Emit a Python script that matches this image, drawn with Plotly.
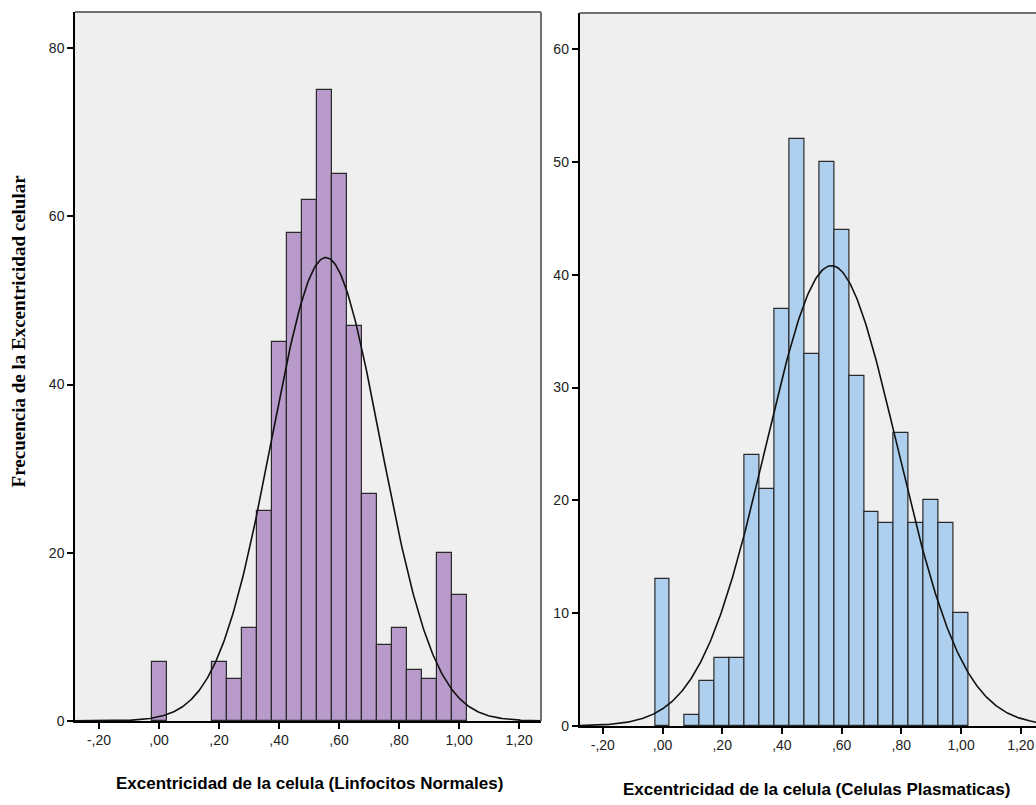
import numpy as np
import plotly.graph_objects as go

# ---------------- data ----------------
bin_width = 0.05

lin_centers = [0.00, 0.20, 0.25, 0.30, 0.35, 0.40, 0.45, 0.50, 0.55, 0.60,
               0.65, 0.70, 0.75, 0.80, 0.85, 0.90, 0.95, 1.00]
lin_counts = [7, 7, 5, 11, 25, 45, 58, 62, 75, 65,
              47, 27, 9, 11, 6, 5, 20, 15]
lin_mean, lin_sd = 0.556, 0.181

pla_centers = [0.00, 0.10, 0.15, 0.20, 0.25, 0.30, 0.35, 0.40, 0.45, 0.50,
               0.55, 0.60, 0.65, 0.70, 0.75, 0.80, 0.85, 0.90, 0.95, 1.00]
pla_counts = [13, 1, 4, 6, 6, 24, 21, 37, 52, 33,
              50, 44, 31, 19, 18, 26, 18, 20, 18, 10]
pla_mean, pla_sd = 0.566, 0.2205

x_tickvals = [-0.2, 0.0, 0.2, 0.4, 0.6, 0.8, 1.0, 1.2]
x_ticktext = ["-,20", ",00", ",20", ",40", ",60", ",80", "1,00", "1,20"]
lin_ytick = [0, 20, 40, 60, 80]
pla_ytick = [0, 10, 20, 30, 40, 50, 60]

lin_title = "Excentricidad de la celula (Linfocitos Normales)"
pla_title = "Excentricidad de la celula (Celulas Plasmaticas)"
y_title = "Frecuencia de la Excentricidad celular"

# ---------------- styling ----------------
W, H = 1036, 805
HE = 796  # effective rendered height used for placing domains/annotations
lin_color = "#B89BCA"
pla_color = "#AED0EE"
edge = "#2a2a2a"
bg = "#EFEFEF"
sans = "Liberation Sans, Arial, sans-serif"
tick_font = dict(family=sans, size=14, color="#222")
title_font = dict(family=sans, size=17, color="#000", weight="bold")

lin_xrange = [-0.28, 1.273]
pla_xrange = [-0.278, 1.251]


def normal_curve(mean, sd, n, xr):
    xs = np.linspace(xr[0], xr[1], 400)
    ys = n * bin_width / (sd * np.sqrt(2 * np.pi)) * np.exp(-0.5 * ((xs - mean) / sd) ** 2)
    return xs, ys


def fy(px):
    return 1 - px / HE


fig = go.Figure()

fig.add_trace(go.Bar(x=lin_centers, y=lin_counts, width=bin_width,
                     marker=dict(color=lin_color, line=dict(color=edge, width=1.2)),
                     xaxis="x", yaxis="y", showlegend=False))
cx, cy = normal_curve(lin_mean, lin_sd, sum(lin_counts), lin_xrange)
fig.add_trace(go.Scatter(x=cx, y=cy, mode="lines", line=dict(color="#111", width=1.6),
                         xaxis="x", yaxis="y", showlegend=False))

fig.add_trace(go.Bar(x=pla_centers, y=pla_counts, width=bin_width,
                     marker=dict(color=pla_color, line=dict(color=edge, width=1.2)),
                     xaxis="x2", yaxis="y2", showlegend=False))
cx2, cy2 = normal_curve(pla_mean, pla_sd, sum(pla_counts), pla_xrange)
fig.add_trace(go.Scatter(x=cx2, y=cy2, mode="lines", line=dict(color="#111", width=1.6),
                         xaxis="x2", yaxis="y2", showlegend=False))

axis_common = dict(showgrid=False, zeroline=False, showline=True, linecolor="#000",
                   linewidth=1.5, ticks="outside", ticklen=6, tickwidth=1.5,
                   tickcolor="#000", tickfont=tick_font, ticklabeloverflow="allow")

lin_dom_x = [75 / W, 541 / W]
lin_dom_y = [fy(720), fy(12)]
pla_dom_x = [579.5 / W, 1.0]
pla_dom_y = [fy(725), fy(13)]

fig.update_layout(
    width=W, height=H,
    margin=dict(l=0, r=0, t=0, b=0),
    paper_bgcolor="white",
    plot_bgcolor=bg,
    bargap=0,
    xaxis=dict(domain=lin_dom_x, anchor="y", range=lin_xrange,
               tickvals=x_tickvals, ticktext=x_ticktext, **axis_common),
    yaxis=dict(domain=lin_dom_y, anchor="x", range=[0, 84.3],
               tickvals=lin_ytick, **axis_common),
    xaxis2=dict(domain=pla_dom_x, anchor="y2", range=pla_xrange,
                tickvals=x_tickvals, ticktext=x_ticktext, **axis_common),
    yaxis2=dict(domain=pla_dom_y, anchor="x2", range=[0, 63.2],
                tickvals=pla_ytick, **axis_common),
    shapes=[
        dict(type="line", xref="x domain", yref="y domain", x0=0, x1=1, y0=1, y1=1,
             line=dict(color="#707070", width=2)),
        dict(type="line", xref="x domain", yref="y domain", x0=1, x1=1, y0=0, y1=1,
             line=dict(color="#707070", width=2)),
        dict(type="line", xref="x2 domain", yref="y2 domain", x0=0, x1=1, y0=1, y1=1,
             line=dict(color="#707070", width=2)),
    ],
    annotations=[
        dict(text=lin_title, xref="paper", yref="paper", x=309 / W, y=fy(783),
             showarrow=False, xanchor="center", yanchor="middle", font=title_font),
        dict(text=pla_title, xref="paper", yref="paper", x=816 / W, y=fy(789),
             showarrow=False, xanchor="center", yanchor="middle", font=title_font),
        dict(text=y_title, xref="paper", yref="paper", x=18 / W, y=fy(331),
             showarrow=False, xanchor="center", yanchor="middle", textangle=-90,
             font=dict(family="Liberation Serif, Times New Roman, serif", size=19,
                       color="#000", weight="bold")),
    ],
)

fig.write_html("out.html")
